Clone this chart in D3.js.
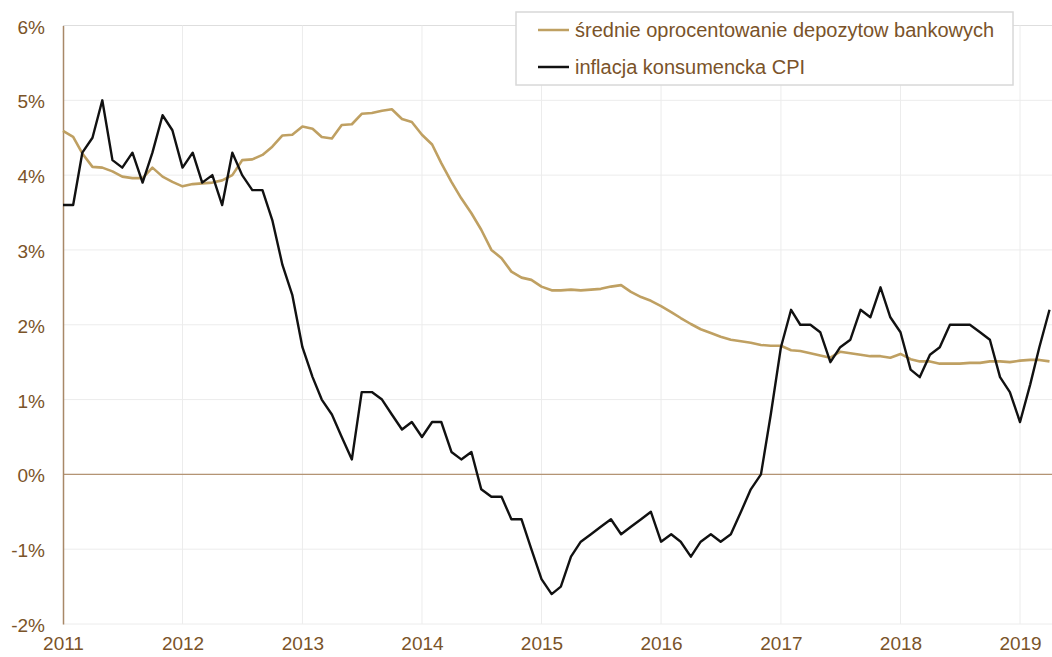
<!DOCTYPE html>
<html>
<head>
<meta charset="utf-8">
<script src="https://cdn.jsdelivr.net/npm/d3@7"></script>
<style>
  body { margin: 0; background: #fff; }
  text { font-family: "Liberation Sans", Arial, sans-serif; }
</style>
</head>
<body>
<div id="chart"></div>
<script>
// monthly data, Jan 2011 .. Apr 2019
var startYear = 2011, startMonth = 0;

var depositRate = [
	4.59, 4.51, 4.29, 4.11, 4.10, 4.05, 3.98, 3.96, 3.96, 4.10, 3.98, 3.91,
	3.85, 3.88, 3.89, 3.90, 3.93, 4.00, 4.20, 4.21, 4.27, 4.38, 4.53, 4.54,
	4.65, 4.62, 4.51, 4.49, 4.67, 4.68, 4.82, 4.83, 4.86, 4.88, 4.75, 4.71,
	4.54, 4.41, 4.16, 3.91, 3.69, 3.49, 3.27, 3.00, 2.89, 2.71, 2.63, 2.60,
	2.51, 2.46, 2.46, 2.47, 2.46, 2.47, 2.48, 2.51, 2.53, 2.44, 2.37, 2.32,
	2.25, 2.17, 2.09, 2.01, 1.94, 1.89, 1.84, 1.80, 1.78, 1.76, 1.73, 1.72,
	1.72, 1.66, 1.65, 1.62, 1.59, 1.56, 1.64, 1.62, 1.60, 1.58, 1.58, 1.56,
	1.61, 1.54, 1.51, 1.51, 1.48, 1.48, 1.48, 1.49, 1.49, 1.51, 1.51, 1.50,
	1.52, 1.53, 1.53, 1.51
];

var cpi = [
	3.6, 3.6, 4.3, 4.5, 5.0, 4.2, 4.1, 4.3, 3.9, 4.3, 4.8, 4.6,
	4.1, 4.3, 3.9, 4.0, 3.6, 4.3, 4.0, 3.8, 3.8, 3.4, 2.8, 2.4,
	1.7, 1.3, 1.0, 0.8, 0.5, 0.2, 1.1, 1.1, 1.0, 0.8, 0.6, 0.7,
	0.5, 0.7, 0.7, 0.3, 0.2, 0.3, -0.2, -0.3, -0.3, -0.6, -0.6, -1.0,
	-1.4, -1.6, -1.5, -1.1, -0.9, -0.8, -0.7, -0.6, -0.8, -0.7, -0.6, -0.5,
	-0.9, -0.8, -0.9, -1.1, -0.9, -0.8, -0.9, -0.8, -0.5, -0.2, 0.0, 0.8,
	1.7, 2.2, 2.0, 2.0, 1.9, 1.5, 1.7, 1.8, 2.2, 2.1, 2.5, 2.1,
	1.9, 1.4, 1.3, 1.6, 1.7, 2.0, 2.0, 2.0, 1.9, 1.8, 1.3, 1.1,
	0.7, 1.2, 1.7, 2.2
];

var seriesNames = ["średnie oprocentowanie depozytow bankowych", "inflacja konsumencka CPI"];
var seriesColors = ["#bfa062", "#111111"];
var yTicks = [-2, -1, 0, 1, 2, 3, 4, 5, 6];
var yearTicks = [2011, 2012, 2013, 2014, 2015, 2016, 2017, 2018, 2019];

var W = 1052, H = 657;
var margin = { top: 25.5, right: 3, bottom: 33, left: 63 };

var svg = d3.select("#chart").append("svg")
	.attr("width", W)
	.attr("height", H);

var dates = depositRate.map(function (d, i) { return new Date(startYear, startMonth + i, 1); });

var x = d3.scaleTime()
	.domain([dates[0], dates[dates.length - 1]])
	.range([margin.left, 1049.5]);

var y = d3.scaleLinear()
	.domain([-2, 6])
	.range([H - margin.bottom, margin.top]);

var labelColor = "#7a5329";

// gridlines
svg.append("g").selectAll("line.hgrid")
	.data(yTicks)
	.enter().append("line")
	.attr("x1", margin.left).attr("x2", W)
	.attr("y1", function (d) { return y(d); })
	.attr("y2", function (d) { return y(d); })
	.attr("stroke", function (d) { return d === 6 ? "#dedede" : "#ececec"; })
	.attr("stroke-width", 1);

svg.append("g").selectAll("line.vgrid")
	.data(yearTicks.slice(1))
	.enter().append("line")
	.attr("x1", function (d) { return x(new Date(d, 0, 1)); })
	.attr("x2", function (d) { return x(new Date(d, 0, 1)); })
	.attr("y1", y(6)).attr("y2", y(-2))
	.attr("stroke", "#ececec")
	.attr("stroke-width", 1);

// zero line
svg.append("line")
	.attr("x1", margin.left).attr("x2", W)
	.attr("y1", y(0)).attr("y2", y(0))
	.attr("stroke", "#b49474")
	.attr("stroke-width", 1.3);

// y axis
var yAxis = d3.axisLeft(y)
	.tickValues(yTicks)
	.tickSize(0)
	.tickPadding(18)
	.tickFormat(function (d) { return d + "%"; });

var gy = svg.append("g")
	.attr("transform", "translate(" + margin.left + ",0)")
	.call(yAxis);
gy.select(".domain").attr("stroke", "#a88868").attr("stroke-width", 1.5);
gy.selectAll("text")
	.attr("fill", labelColor)
	.style("font-size", "19px")
	.attr("dy", "0.4em");

// x axis
var xAxis = d3.axisBottom(x)
	.tickValues(yearTicks.map(function (d) { return new Date(d, 0, 1); }))
	.tickSize(0)
	.tickPadding(13)
	.tickFormat(d3.timeFormat("%Y"));

var gx = svg.append("g")
	.attr("transform", "translate(0," + y(-2) + ")")
	.call(xAxis);
gx.select(".domain").remove();
gx.selectAll("text")
	.attr("fill", labelColor)
	.style("font-size", "19px");

// lines
var line = d3.line()
	.x(function (d, i) { return x(dates[i]); })
	.y(function (d) { return y(d); });

svg.append("path")
	.datum(depositRate)
	.attr("fill", "none")
	.attr("stroke", seriesColors[0])
	.attr("stroke-width", 2.6)
	.attr("stroke-linejoin", "round")
	.attr("d", line);

svg.append("path")
	.datum(cpi)
	.attr("fill", "none")
	.attr("stroke", seriesColors[1])
	.attr("stroke-width", 2.4)
	.attr("stroke-linejoin", "round")
	.attr("d", line);

// legend
var legend = svg.append("g").attr("transform", "translate(516,12)");
legend.append("rect")
	.attr("width", 497)
	.attr("height", 73)
	.attr("fill", "#fff")
	.attr("stroke", "#d8d8d8")
	.attr("stroke-width", 1.5);

var items = legend.selectAll("g.item")
	.data(seriesNames)
	.enter().append("g")
	.attr("transform", function (d, i) { return "translate(0," + (18 + i * 37) + ")"; });

items.append("line")
	.attr("x1", 22).attr("x2", 53)
	.attr("stroke", function (d, i) { return seriesColors[i]; })
	.attr("stroke-width", 2.5);

items.append("text")
	.attr("x", 59)
	.attr("dy", "0.36em")
	.attr("fill", labelColor)
	.style("font-size", "20px")
	.text(function (d) { return d; });
</script>
</body>
</html>
